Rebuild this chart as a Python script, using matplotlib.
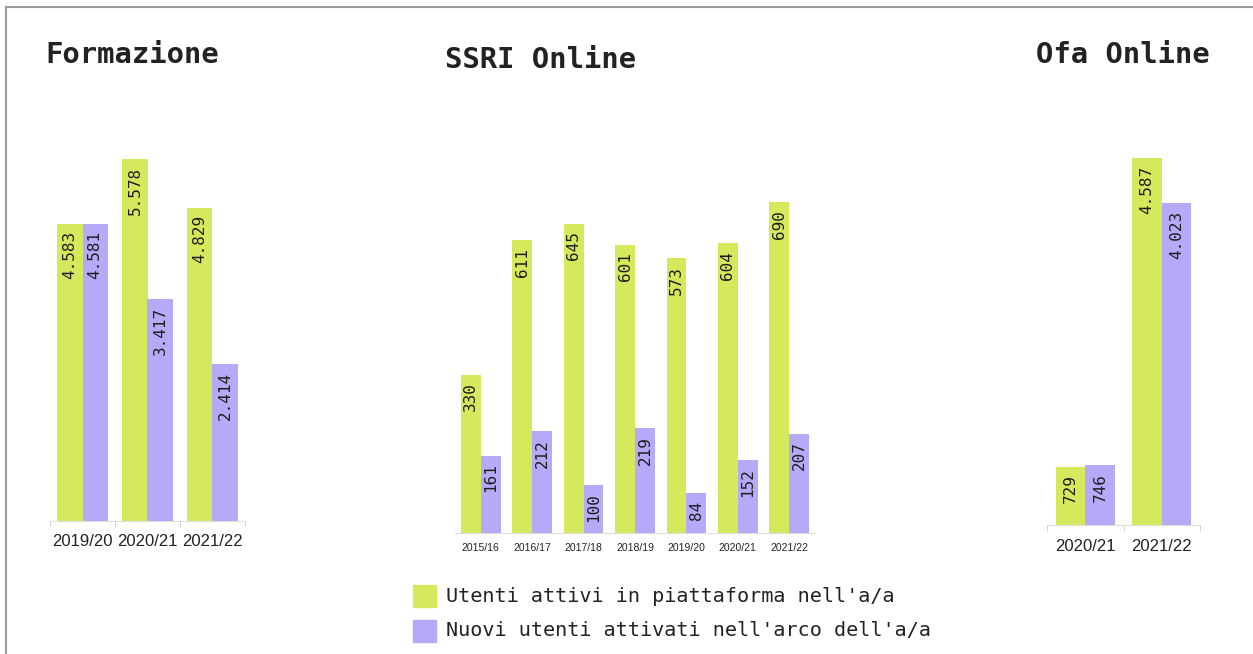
import matplotlib
matplotlib.use("Agg")
import matplotlib.pyplot as plt
import numpy as np
from matplotlib.patches import Rectangle
from matplotlib.lines import Line2D

# ---- data ----
form_years = ["2019/20", "2020/21", "2021/22"]
form_attivi = [4583, 5578, 4829]
form_nuovi = [4581, 3417, 2414]

ssri_years = ["2015/16", "2016/17", "2017/18", "2018/19", "2019/20", "2020/21", "2021/22"]
ssri_attivi = [330, 611, 645, 601, 573, 604, 690]
ssri_nuovi = [161, 212, 100, 219, 84, 152, 207]

ofa_years = ["2020/21", "2021/22"]
ofa_attivi = [729, 4587]
ofa_nuovi = [746, 4023]

series_names = ["Utenti attivi in piattaforma nell'a/a",
                "Nuovi utenti attivati nell'arco dell'a/a"]

GREEN = "#d6e85c"
PURPLE = "#b6a9f8"
W, H = 1253, 654
MONO = "DejaVu Sans Mono"
SANS = "Liberation Sans"

fig = plt.figure(figsize=(W / 100, H / 100), dpi=100)
fig.patch.set_facecolor("white")

# frame lines (top and left)
fig.add_artist(Line2D([6 / W, 1], [1 - 7 / H, 1 - 7 / H], color="#9a9a9a", lw=1.5))
fig.add_artist(Line2D([6 / W, 6 / W], [0, 1 - 7 / H], color="#9a9a9a", lw=1.5))


def panel(left, right, base, top, cats, a, b, label_size, tick_size, tick_pad, vmax_px, vmax, ticks):
    ax = fig.add_axes([left / W, 1 - base / H, (right - left) / W, (base - top) / H])
    n = len(cats)
    x = np.arange(n)
    bw = 0.385
    ymax = vmax * (base - top) / vmax_px
    ax.set_xlim(-0.5, n - 0.5)
    ax.set_ylim(0, ymax)
    ba = ax.bar(x - bw / 2, a, bw, color=GREEN)
    bb = ax.bar(x + bw / 2, b, bw, color=PURPLE)
    fmt = lambda v: f"{v:,}".replace(",", ".")
    pad = ymax * 0.018
    for bars, vals in ((ba, a), (bb, b)):
        for r, v in zip(bars, vals):
            ax.text(r.get_x() + r.get_width() / 2, v - pad, fmt(v), rotation=90,
                    ha="center", va="top", fontsize=label_size, family=MONO, color="#1e1e1e")
    for s in ("top", "right", "left"):
        ax.spines[s].set_visible(False)
    ax.spines["bottom"].set_color("#dddddd")
    ax.set_yticks([])
    ax.set_xticks(x)
    ax.set_xticklabels(cats, fontsize=tick_size, family=SANS, color="#222222")
    ax.tick_params(axis="x", length=0, pad=tick_pad)
    if ticks:
        ax.set_xticks(np.arange(-0.5, n, 1.0), minor=True)
        ax.tick_params(axis="x", which="minor", length=4, color="#cccccc")
    return ax


panel(50, 245, 521, 100, form_years, form_attivi, form_nuovi, 11.5, 12, 9, 362, 5578, True)
panel(455, 815, 533, 100, ssri_years, ssri_attivi, ssri_nuovi, 11.5, 7.5, 7, 331, 690, False)
panel(1047, 1200, 525, 100, ofa_years, ofa_attivi, ofa_nuovi, 11.5, 12, 10, 367, 4587, True)

# titles
fig.text(45 / W, 1 - 55 / H, "Formazione", fontsize=20.8, family=MONO, weight="bold",
         color="#222222", ha="left", va="center")
fig.text(445 / W, 1 - 60 / H, "SSRI Online", fontsize=20.8, family=MONO, weight="bold",
         color="#222222", ha="left", va="center")
fig.text(1210 / W, 1 - 55 / H, "Ofa Online", fontsize=20.8, family=MONO, weight="bold",
         color="#222222", ha="right", va="center")

# legend
for i, (name, col) in enumerate(zip(series_names, (GREEN, PURPLE))):
    yc = 596 + i * 35
    fig.add_artist(Rectangle((413 / W, 1 - (yc + 11) / H), 23 / W, 22 / H,
                             transform=fig.transFigure, color=col))
    fig.text(446 / W, 1 - yc / H, name, fontsize=14.5, family=MONO, color="#222222",
             ha="left", va="center")

fig.savefig("out.png", dpi=100, facecolor="white")
